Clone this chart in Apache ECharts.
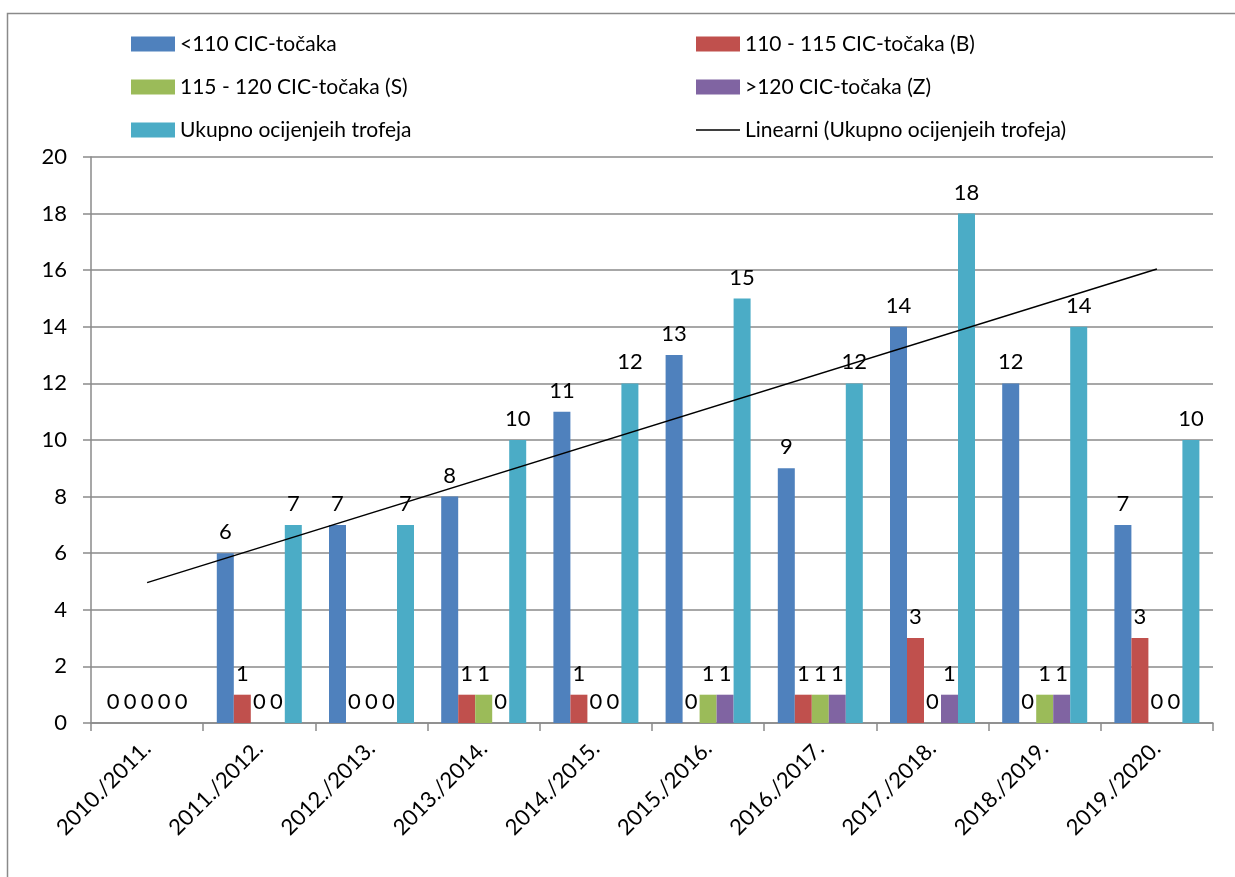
<!DOCTYPE html>
<html>
<head>
<meta charset="utf-8">
<script src="https://cdn.jsdelivr.net/npm/echarts@6/dist/echarts.min.js"></script>
<style>
  html, body { margin: 0; padding: 0; background: #fff; }
  #chart { width: 1235px; height: 877px; }
</style>
</head>
<body>
<div id="chart"></div>
<script>
// sezone
const seasons = ['2010./2011.', '2011./2012.', '2012./2013.', '2013./2014.', '2014./2015.',
  '2015./2016.', '2016./2017.', '2017./2018.', '2018./2019.', '2019./2020.']

// broj trofeja po razredima
const below110 = [0, 6, 7, 8, 11, 13, 9, 14, 12, 7]
const from110to115 = [0, 1, 0, 1, 1, 0, 1, 3, 0, 3]
const from115to120 = [0, 0, 0, 1, 0, 1, 1, 0, 1, 0]
const above120 = [0, 0, 0, 0, 0, 1, 1, 1, 1, 0]
const totalTrophies = [0, 7, 7, 10, 12, 15, 12, 18, 14, 10]

// linearni trend (krajnje točke očitane sa slike)
const trendLine = [4.96, null, null, null, null, null, null, null, null, 16.04]

const yTicks = { min: 0, max: 20, interval: 2 }

const names = [
  '<110 CIC-točaka',
  '110 - 115 CIC-točaka (B)',
  '115 - 120 CIC-točaka (S)',
  '>120 CIC-točaka (Z)',
  'Ukupno ocijenjeih trofeja',
  'Linearni (Ukupno ocijenjeih trofeja)'
]
const colors = ['#4F81BD', '#C0504D', '#9BBB59', '#8064A2', '#4BACC6']
const FONT = 'Lato'

// tanka crta za legendu trenda (kutovi drže okvir 44x15)
const lineIcon = 'path://M0,6.8H44V8.2H0Z M0,0H0.01V0.01H0Z M43.99,14.99H44V15H43.99Z'

const chart = echarts.init(document.getElementById('chart'))

const barSeries = [below110, from110to115, from115to120, above120, totalTrophies].map((data, i) => ({
  name: names[i],
  type: 'bar',
  barWidth: 17,
  barGap: '0%',
  itemStyle: { color: colors[i] },
  label: {
    show: true,
    position: 'top',
    distance: 10,
    color: '#000',
    fontFamily: FONT,
    fontSize: 22
  },
  data: data
}))

const legendText = { color: '#000', fontFamily: FONT, fontSize: 21, lineHeight: 22 }

chart.setOption({
  backgroundColor: '#fff',
  animation: false,
  graphic: [{
    type: 'rect',
    shape: { x: 7.5, y: 13.5, width: 1260, height: 900 },
    style: { fill: 'none', stroke: '#8a8a8a', lineWidth: 1.5 },
    silent: true
  }],
  legend: [{
    orient: 'vertical',
    left: 126,
    top: 28,
    itemWidth: 44,
    itemHeight: 15,
    itemGap: 21,
    icon: 'rect',
    textStyle: legendText,
    data: [names[0], names[2], names[4]]
  }, {
    orient: 'vertical',
    left: 691,
    top: 28,
    itemWidth: 44,
    itemHeight: 15,
    itemGap: 21,
    textStyle: legendText,
    data: [{ name: names[1], icon: 'rect' }, { name: names[3], icon: 'rect' }, { name: names[5], icon: lineIcon }]
  }],
  grid: {
    left: 91,
    right: 22,
    top: 157,
    bottom: 154,
    containLabel: false
  },
  xAxis: {
    type: 'category',
    data: seasons,
    boundaryGap: true,
    axisLine: { lineStyle: { color: '#8a8a8a', width: 1.5 } },
    axisTick: { show: true, length: 8, lineStyle: { color: '#8a8a8a', width: 1.5 } },
    axisLabel: {
      interval: 0,
      rotate: 45,
      margin: 22,
      color: '#000',
      fontFamily: FONT,
      fontSize: 22
    }
  },
  yAxis: {
    type: 'value',
    min: yTicks.min,
    max: yTicks.max,
    interval: yTicks.interval,
    axisLine: { show: true, lineStyle: { color: '#8a8a8a', width: 1.5 } },
    axisTick: { show: true, length: 8, lineStyle: { color: '#8a8a8a', width: 1.5 } },
    splitLine: { show: true, lineStyle: { color: '#8a8a8a', width: 1.5 } },
    axisLabel: {
      margin: 24,
      color: '#000',
      fontFamily: FONT,
      fontSize: 22
    }
  },
  series: [...barSeries, {
    name: names[5],
    type: 'line',
    symbol: 'none',
    connectNulls: true,
    z: 5,
    lineStyle: { color: '#000', width: 1.5 },
    itemStyle: { color: '#000' },
    data: trendLine
  }]
})
</script>
</body>
</html>
